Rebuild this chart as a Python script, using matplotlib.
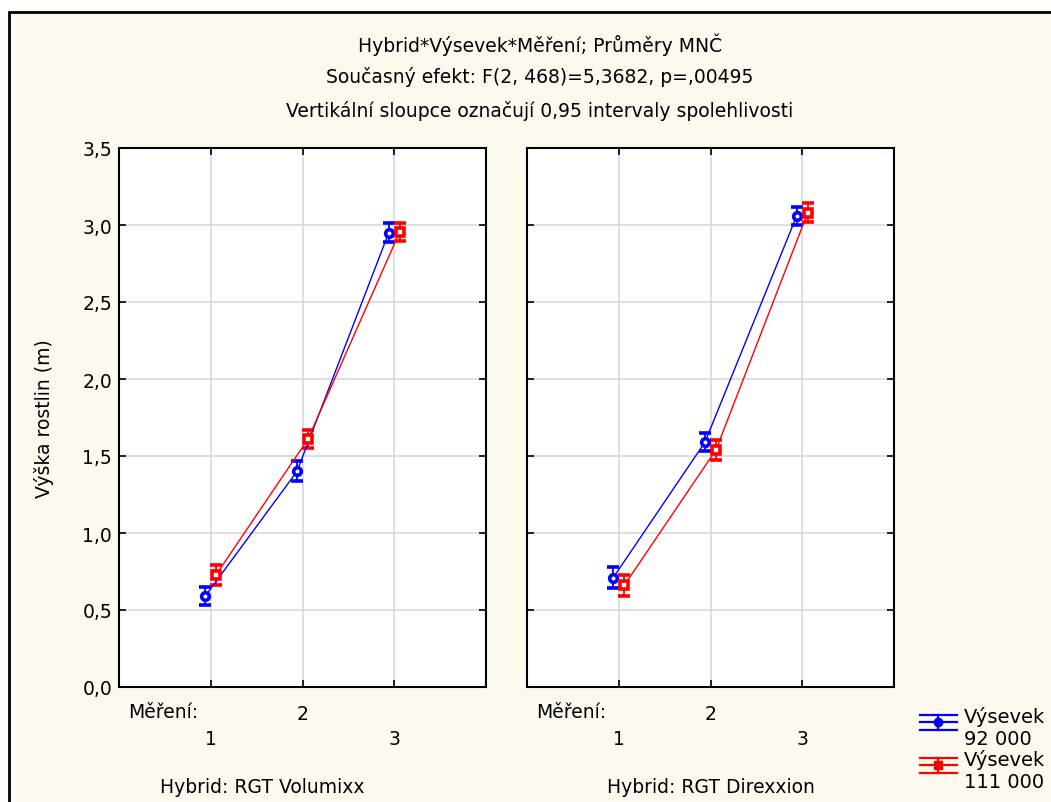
import matplotlib
matplotlib.use("Agg")
import matplotlib.pyplot as plt
from matplotlib.patches import Rectangle
from matplotlib.lines import Line2D
from matplotlib.legend_handler import HandlerBase

plt.rcParams['font.family'] = ['DejaVu Sans']

# data
mereni = [1, 2, 3]
hybrids = ["RGT Volumixx", "RGT Direxxion"]
vysevek_labels = ["Výsevek\n92 000", "Výsevek\n111 000"]
volumixx_92 = [0.59, 1.40, 2.95]
volumixx_92_ci = [0.06, 0.065, 0.06]
volumixx_111 = [0.73, 1.61, 2.955]
volumixx_111_ci = [0.065, 0.06, 0.06]
direxxion_92 = [0.71, 1.59, 3.06]
direxxion_92_ci = [0.068, 0.06, 0.06]
direxxion_111 = [0.66, 1.54, 3.08]
direxxion_111_ci = [0.07, 0.065, 0.06]
yticks = [0.0, 0.5, 1.0, 1.5, 2.0, 2.5, 3.0, 3.5]

W, H = 1051, 803
FS = 13.5


class ErrKey(HandlerBase):
    # legend key like the statistica one: three bars, a stem and the marker
    def create_artists(self, legend, orig, xd, yd, width, height, fontsize, trans):
        c = orig.get_color()
        m = orig.get_marker()
        mid = yd + height / 2
        off = height * 0.42
        arts = []
        for yy in (mid - off, mid, mid + off):
            arts.append(Line2D([xd, xd + width], [yy, yy], color=c, lw=1.6, transform=trans))
        arts.append(Line2D([xd + width / 2] * 2, [mid - off, mid + off], color=c, lw=1.6, transform=trans))
        arts.append(Line2D([xd + width / 2], [mid], marker=m, ms=6, color=c, mfc=c,
                           transform=trans))
        return arts


fig = plt.figure(figsize=(W / 100, H / 100), dpi=100)
fig.patch.set_facecolor("white")
fig.add_artist(Rectangle((9 / W, -0.01), 1.0, (H - 13) / H + 0.01,
                         transform=fig.transFigure, facecolor="#fef9ee",
                         edgecolor="black", linewidth=2, zorder=-10))

colors = ["#0000ff", "#ff0000"]
markers = ["o", "s"]
shift = [-0.06, 0.06]

panels = [
    (119, hybrids[0], [(volumixx_92, volumixx_92_ci), (volumixx_111, volumixx_111_ci)], 0.39),
    (527, hybrids[1], [(direxxion_92, direxxion_92_ci), (direxxion_111, direxxion_111_ci)], 0.50),
]

for i, (left, name, series, title_x) in enumerate(panels):
    ax = fig.add_axes([left / W, (H - 688) / H, 367 / W, 539 / H])
    ax.set_facecolor("white")
    for k, (vals, ci) in enumerate(series):
        xs = [m + shift[k] for m in mereni]
        ax.errorbar(xs, vals, yerr=ci, color=colors[k], lw=1.0, marker=markers[k],
                    ms=5.5, mfc="white", mec=colors[k], mew=2.6, capsize=4,
                    elinewidth=1.3, capthick=1.3, zorder=3)
    ax.set_xlim(0, 4)
    ax.set_ylim(0, 3.5)
    ax.set_xticks(mereni)
    ax.set_xticklabels([str(m) for m in mereni], fontsize=FS)
    ax.set_yticks(yticks)
    if i == 0:
        ax.set_yticklabels([f"{v:.1f}".replace(".", ",") for v in yticks], fontsize=FS)
        ax.set_ylabel("Výška rostlin (m)", fontsize=FS)
        ax.yaxis.set_label_coords(-0.178, 0.5)
    else:
        ax.set_yticklabels([])
    ax.tick_params(direction="in", length=5, width=1.2, top=True, right=True, pad=5)
    # staggered x labels: middle one higher
    for j, t in enumerate(ax.xaxis.get_major_ticks()):
        t.set_pad(12 if j == 1 else 30)
    ax.grid(True, color="#d9d9d9", lw=1.2)
    ax.set_axisbelow(True)
    for s in ax.spines.values():
        s.set_linewidth(1.5)
    ax.text(0.024, -0.046, "Měření:", transform=ax.transAxes, fontsize=FS,
            ha="left", va="center")
    ax.text(title_x, -0.184, "Hybrid: " + name, transform=ax.transAxes,
            fontsize=FS, ha="center", va="center")

fig.text(540 / W, 1 - 45 / H, "Hybrid*Výsevek*Měření; Průměry MNČ", ha="center", va="center", fontsize=FS)
fig.text(540 / W, 1 - 77 / H, "Současný efekt: F(2, 468)=5,3682, p=,00495", ha="center", va="center", fontsize=FS)
fig.text(540 / W, 1 - 111 / H, "Vertikální sloupce označují 0,95 intervaly spolehlivosti", ha="center", va="center", fontsize=FS)

handles = [Line2D([], [], color=c, marker=m) for c, m in zip(colors, markers)]
fig.legend(handles, vysevek_labels, loc="upper left", bbox_to_anchor=(920 / W, 1 - 707 / H),
           frameon=False, fontsize=14, handlelength=1.9, handleheight=1.1, handletextpad=0.35,
           labelspacing=0.05, borderaxespad=0, borderpad=0,
           handler_map={Line2D: ErrKey()})

fig.savefig("out.png", dpi=100, facecolor=fig.get_facecolor())
